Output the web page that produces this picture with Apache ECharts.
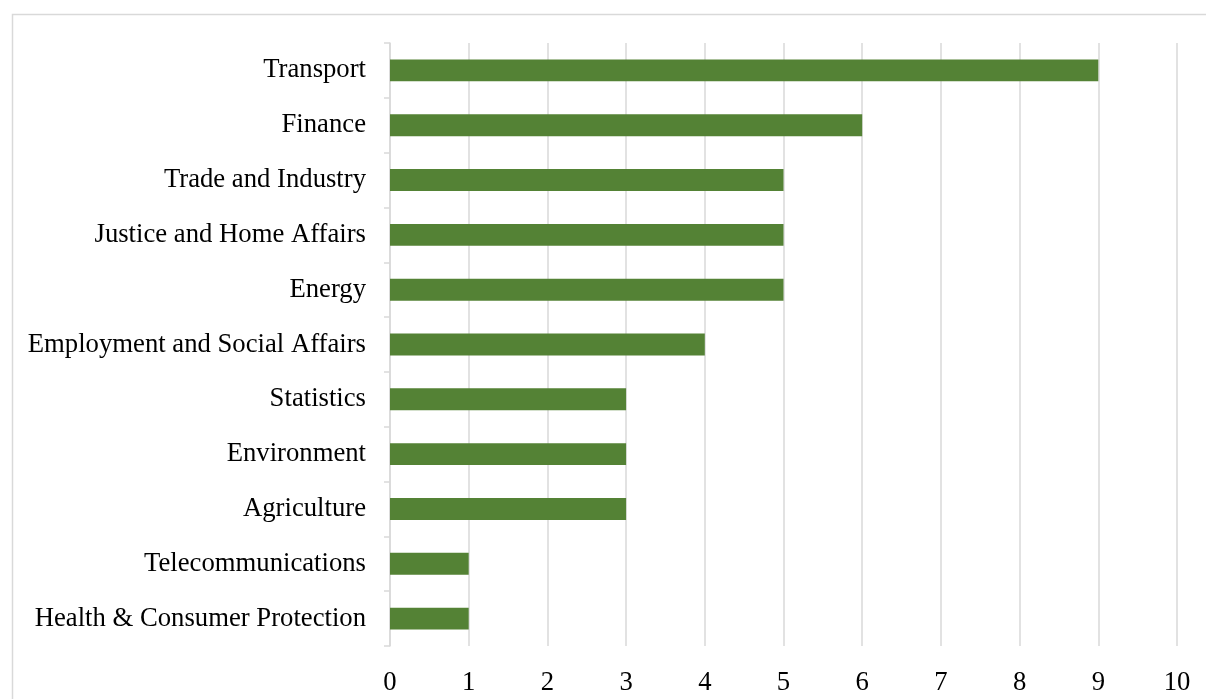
<!DOCTYPE html>
<html>
<head>
<meta charset="utf-8">
<script src="https://cdn.jsdelivr.net/npm/echarts@6/dist/echarts.min.js"></script>
<style>
  html, body { margin: 0; padding: 0; background: #ffffff; }
  #chart { width: 1206px; height: 699px; }
</style>
</head>
<body>
<div id="chart"></div>
<script>
// Policy areas, listed top to bottom
const categories = [
  'Transport',
  'Finance',
  'Trade and Industry',
  'Justice and Home Affairs',
  'Energy',
  'Employment and Social Affairs',
  'Statistics',
  'Environment',
  'Agriculture',
  'Telecommunications',
  'Health & Consumer Protection'
];
const counts = [9, 6, 5, 5, 5, 4, 3, 3, 3, 1, 1];
const xTicks = [0, 1, 2, 3, 4, 5, 6, 7, 8, 9, 10];

const serif = '"Liberation Serif", "DejaVu Serif", serif';
const chart = echarts.init(document.getElementById('chart'));

chart.setOption({
  animation: false,
  backgroundColor: '#ffffff',
  graphic: [{
    type: 'rect',
    left: 10, top: 12,
    shape: { width: 1300, height: 800 },
    style: { fill: 'none', stroke: '#d9d9d9', lineWidth: 1.5 },
    silent: true
  }],
  grid: { left: 390, right: 29, top: 43, bottom: 53, containLabel: false },
  xAxis: {
    type: 'value',
    min: xTicks[0],
    max: xTicks[xTicks.length - 1],
    interval: 1,
    axisLine: { show: false },
    axisTick: { show: false },
    splitLine: { show: true, lineStyle: { color: '#d9d9d9', width: 1.5 } },
    axisLabel: {
      margin: 23,
      color: '#000000',
      fontFamily: serif,
      fontSize: 26.7
    }
  },
  yAxis: {
    type: 'category',
    data: categories,
    inverse: true,
    axisLine: { show: true, lineStyle: { color: '#d9d9d9', width: 1.5 } },
    axisTick: { show: true, length: 6, lineStyle: { color: '#d9d9d9', width: 1.5 } },
    splitLine: { show: false },
    axisLabel: {
      margin: 24,
      color: '#000000',
      fontFamily: serif,
      fontSize: 26.7
    }
  },
  series: [{
    type: 'bar',
    data: counts,
    barCategoryGap: '60%',
    itemStyle: { color: '#548235' },
    z: 3
  }]
});
</script>
</body>
</html>
